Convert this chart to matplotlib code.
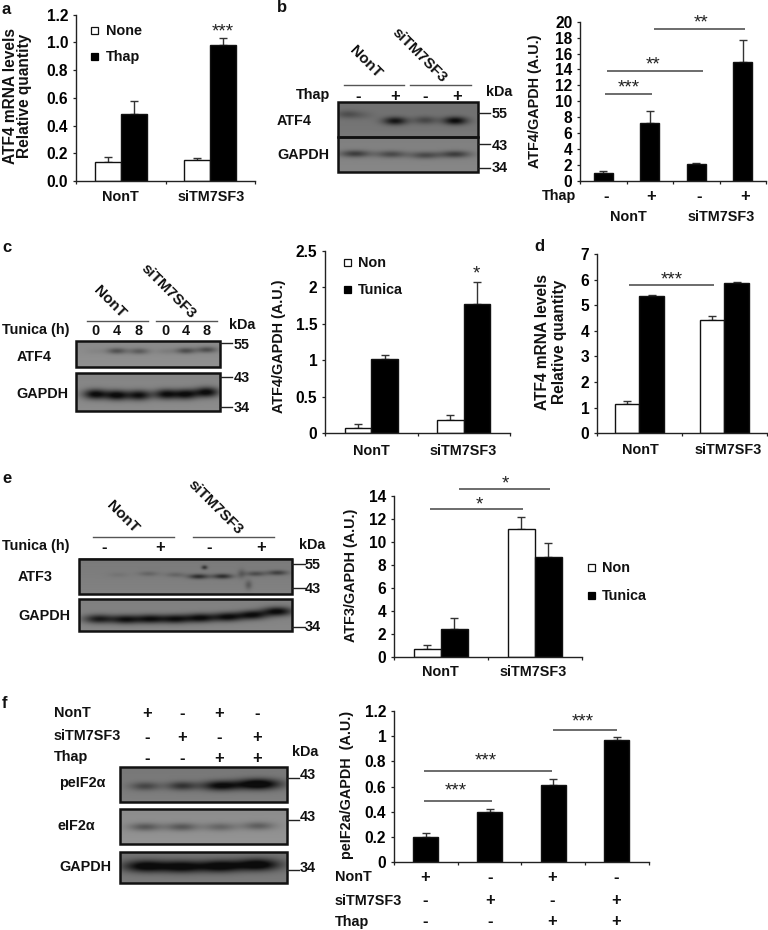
import numpy as np
import matplotlib
matplotlib.use("Agg")
import matplotlib.pyplot as plt
from matplotlib.patches import Rectangle

plt.rcParams['font.family'] = ['Liberation Sans', 'DejaVu Sans']
plt.rcParams['font.weight'] = 'bold'

W, H = 768, 930
FS = 10.4

# bar values and upper error lengths
a_none = [0.135, 0.15]
a_thap = [0.485, 0.98]
a_none_err = [0.04, 0.018]
a_thap_err = [0.09, 0.055]
a_ticks = ['0.0', '0.2', '0.4', '0.6', '0.8', '1.0', '1.2']

b_vals = [1.05, 7.3, 2.1, 14.9]
b_err = [0.2, 1.55, 0.2, 2.8]
b_ticks = [str(v) for v in range(0, 21, 2)]

c_none = [0.07, 0.18]
c_tunica = [1.02, 1.77]
c_none_err = [0.06, 0.07]
c_tunica_err = [0.05, 0.3]
c_ticks = ['0', '0.5', '1', '1.5', '2', '2.5']

d_none = [1.13, 4.42]
d_tunica = [5.37, 5.87]
d_none_err = [0.14, 0.15]
d_tunica_err = [0.01, 0.05]
d_ticks = ['0', '1', '2', '3', '4', '5', '6', '7']

e_none = [0.7, 11.15]
e_tunica = [2.4, 8.65]
e_none_err = [0.3, 1.05]
e_tunica_err = [1.0, 1.25]
e_ticks = [str(v) for v in range(0, 15, 2)]

f_vals = [0.2, 0.4, 0.61, 0.97]
f_err = [0.03, 0.02, 0.05, 0.025]
f_ticks = ['0', '0.2', '0.4', '0.6', '0.8', '1', '1.2']

groups = ['NonT', 'siTM7SF3']
f_nont = ['+', '-', '+', '-']
f_sitm = ['-', '+', '-', '+']
f_thap = ['-', '-', '+', '+']

# band darkness per lane on the blots
b_atf4 = [0.3, 0.12, 0.85, 0.4, 0.95]
b_gapdh = [0.55, 0.45, 0.45, 0.55]
c_atf4 = [0.05, 0.42, 0.35, 0.1, 0.45, 0.45]
c_gapdh = [0.95, 0.95, 0.9, 0.9, 0.9, 0.95]
e_atf3 = [0.08, 0.2, 0.2, 0.65, 0.65, 0.4, 0.5]
e_gapdh = [0.8, 0.85, 0.85, 0.85, 0.9, 0.9, 0.9, 0.95]
f_peif = [0.45, 0.6, 0.95, 1.2]
f_eif = [0.4, 0.4, 0.3, 0.35]
f_gapdh = [1.05, 1.0, 1.05, 1.1]

fig = plt.figure(figsize=(W / 100, H / 100), dpi=100, facecolor='white')
over = fig.add_axes([0, 0, 1, 1])
over.axis('off')


def label(x, y, s, ha='left', size=FS, rot=0):
    if rot == 90:
        x += 1.5
    over.text(x, y, s, ha=ha, va='center', fontsize=size, rotation=rot,
              rotation_mode='anchor' if rot == 0 else 'default', color='#111111')


def sign(x, y, s):
    over.text(x, y, s, ha='center', va='center', fontsize=FS + 1.5, color='#111111')


def stars(x, y, s):
    over.text(x, y + 4, s, ha='center', va='center', fontsize=13.5, fontweight='normal', color='#222222')


def panel(x0, x1, ytop, ybot, n, ymax, ticks):
    ax = fig.add_axes([x0 / W, 1 - ybot / H, (x1 - x0) / W, (ybot - ytop) / H])
    ax.patch.set_alpha(0)
    ax.set_xlim(0, n)
    ax.set_ylim(0, ymax)
    ax.set_yticks(np.linspace(0, ymax, len(ticks)))
    ax.set_yticklabels(ticks, fontsize=FS + 0.8)
    ax.set_xticks(range(n + 1))
    ax.set_xticklabels([])
    ax.tick_params(length=2.5, width=0.9, pad=3, color='#222222')
    for s in ['top', 'right']:
        ax.spines[s].set_visible(False)
    for s in ['left', 'bottom']:
        ax.spines[s].set_linewidth(1.0)
        ax.spines[s].set_color('#222222')
    return ax


def draw_bars(ax, pos, vals, errs, colour, width):
    ax.bar(pos, vals, width, color=colour, edgecolor='#111111', linewidth=1.0, zorder=2)
    ax.errorbar(pos, vals, yerr=[[0] * len(vals), errs], fmt='none', ecolor='#333333',
                elinewidth=1.0, capsize=2.8, capthick=1.0, zorder=1)


def paired(ax, first, second, first_err, second_err, width):
    pos = np.array([0.5, 1.5])
    draw_bars(ax, pos - width / 2, first, first_err, 'white', width)
    draw_bars(ax, pos + width / 2, second, second_err, 'black', width)


def sig(x0, x1, y, s, sx, sy):
    over.plot([x0, x1], [y, y], color='#444444', lw=1.1, solid_capstyle='butt')
    stars(sx, sy, s)


def legend(x, y0, y1, first, second):
    over.add_patch(Rectangle((x - 3.5, y0 - 3.5), 7, 7, fc='white', ec='#111111', lw=0.9))
    over.add_patch(Rectangle((x - 3.5, y1 - 3.5), 7, 7, fc='black', ec='black', lw=0.9))
    label(x + 11, y0 + 0.5, first)
    label(x + 11, y1 + 0.5, second)


def blot(x0, y0, x1, y1, bg, bands):
    xx, yy = np.meshgrid(np.arange(x0, x1, 0.5), np.arange(y0, y1, 0.5))
    img = np.full(xx.shape, bg, dtype=float)
    # vertical shading so the membrane is not flat
    img += 0.03 * (yy - y0) / (y1 - y0)
    for xc, yc, w, h, s in bands:
        img -= s * bg * np.exp(-((xx - xc) / (w / 2)) ** 2 - ((yy - yc) / (h / 2)) ** 2)
    img = np.clip(img, 0.05, 1)
    over.imshow(img, extent=(x0, x1, y1, y0), cmap='gray', vmin=0, vmax=1,
                aspect='auto', interpolation='bilinear', zorder=1)
    over.add_patch(Rectangle((x0, y0), x1 - x0, y1 - y0, fc='none', ec='#111111', lw=1.8, zorder=2))


def lanes(xs, ys, w, h, strengths):
    return [(x, y, w, h, s) for x, y, s in zip(xs, ys, strengths)]


def kda(x0, x1, y, text, tx, ty=None):
    over.plot([x0, x1], [y, y], color='#222222', lw=1.0)
    label(tx, y if ty is None else ty, text)


def header(xa0, xa1, xb0, xb1, y, c1, c2):
    over.plot([xa0, xa1], [y, y], color='#555555', lw=1.0)
    over.plot([xb0, xb1], [y, y], color='#555555', lw=1.0)
    label(c1[0], c1[1], groups[0], ha='center', rot=-45, size=FS + 0.6)
    label(c2[0], c2[1], groups[1], ha='center', rot=-45, size=FS + 0.6)


# panel letters
for x, y, s in [(2, 9, 'a'), (277, 8, 'b'), (2, 247, 'c'), (534, 246, 'd'), (2, 478, 'e'), (2, 703, 'f')]:
    label(x, y, s, size=12)

# a
ax = panel(76, 255, 14.7, 181, 2, 1.2, a_ticks)
paired(ax, a_none, a_thap, a_none_err, a_thap_err, 0.29)
label(120, 197, groups[0], ha='center')
label(210.7, 197, groups[1], ha='center')
label(9, 96, 'ATF4 mRNA levels', ha='center', rot=90, size=FS + 0.8)
label(23.3, 96, 'Relative quantity', ha='center', rot=90, size=FS + 0.8)
legend(94.7, 30.7, 57, 'None', 'Thap')
stars(222.7, 28, '***')

# b blot
blot(338, 102, 478, 137, 0.44, lanes([347, 362, 395, 425, 455], [114, 115, 120.7, 120, 120.5], 24, 8, b_atf4))
blot(338, 137, 478, 172, 0.5, lanes([355, 391, 425, 455], [153.5, 154, 155, 154], 30, 7, b_gapdh))
header(344, 404, 410, 471, 85, (365.7, 61.7), (419, 55))
label(330, 95, 'Thap', ha='right')
for x, s in zip([358, 395, 425, 456.7], ['-', '+', '-', '+']):
    sign(x, 96, s)
label(486, 91.7, 'kDa')
kda(478, 490, 113, '55', 492, 114)
kda(478, 490, 144.5, '43', 492, 145.7)
kda(478, 490, 168.5, '34', 492)
label(277, 121, 'ATF4')
label(277, 155, 'GAPDH')

# b chart
ax = panel(580, 766, 21.7, 181, 4, 20, b_ticks)
draw_bars(ax, np.arange(4) + 0.5, b_vals, b_err, 'black', 0.4)
label(533, 101, 'ATF4/GAPDH (A.U.)', ha='center', rot=90)
label(575.7, 195.7, 'Thap', ha='right')
for x, s in zip([605.7, 651.3, 699.3, 745], ['-', '+', '-', '+']):
    sign(x, 196, s)
label(628, 216.7, groups[0], ha='center')
label(721, 216.7, groups[1], ha='center')
sig(605, 652, 94, '***', 629, 84)
sig(607, 703, 70.7, '**', 653, 61)
sig(654, 745, 29, '**', 700.7, 19)

# c blot
c_x = [95, 116.7, 139, 165.7, 185.7, 206.7]
blot(76, 341, 220, 367, 0.54, lanes(c_x, [351, 350.7, 351, 351, 350.5, 349.5], 20, 6, c_atf4))
blot(76, 373.3, 220, 410.7, 0.52, lanes(c_x, [394, 395, 395, 394, 394, 392], 24, 10, c_gapdh))
header(87.3, 147.7, 156, 216.7, 320.7, (110, 301.7), (168, 291.7))
label(2, 330, 'Tunica (h)')
for x, s in zip(c_x, ['0', '4', '8', '0', '4', '8']):
    label(x, 331, s, ha='center')
label(229, 325, 'kDa')
kda(220, 232, 343.5, '55', 234, 345)
kda(220, 232, 377.5, '43', 234, 378.3)
kda(220, 232, 407, '34', 234, 408.3)
label(17, 357, 'ATF4')
label(16, 394, 'GAPDH')

# c chart
ax = panel(325, 510, 250.7, 433, 2, 2.5, c_ticks)
paired(ax, c_none, c_tunica, c_none_err, c_tunica_err, 0.287)
label(277, 346.7, 'ATF4/GAPDH (A.U.)', ha='center', rot=90)
label(371, 450.7, groups[0], ha='center')
label(462.7, 450.7, groups[1], ha='center')
legend(347.3, 262.3, 289.3, 'Non', 'Tunica')
stars(476, 270, '*')

# d chart
ax = panel(597, 766.7, 254, 433.3, 2, 7, d_ticks)
paired(ax, d_none, d_tunica, d_none_err, d_tunica_err, 0.29)
label(541, 342.3, 'ATF4 mRNA levels', ha='center', rot=90, size=FS + 0.8)
label(558.3, 342.3, 'Relative quantity', ha='center', rot=90, size=FS + 0.8)
label(640.7, 450, groups[0], ha='center')
label(728.3, 450, groups[1], ha='center')
sig(629.3, 714, 285, '***', 671.7, 275.7)

# e blot
e_x = [118, 148, 175, 198, 222, 255, 277]
atf3_bands = lanes(e_x, [575, 574, 575, 576.7, 576.5, 574, 573], 20, 5, e_atf3)
atf3_bands += [(204, 567.7, 6, 4, 0.6), (248, 585, 7, 9, 0.3), (241, 574, 8, 9, 0.25)]
blot(78.7, 558.7, 292.3, 594, 0.48, atf3_bands)
e_gx = [98, 125, 150, 175, 200, 227, 252, 277]
blot(78.7, 599.3, 292.3, 631.3, 0.5, lanes(e_gx, [619, 619.5, 619, 619, 618, 617, 615, 611.5], 30, 9, e_gapdh))
header(93.3, 174, 193, 274, 537.3, (123, 516.7), (215, 507))
label(2, 546, 'Tunica (h)')
for x, s in zip([104.3, 160, 209, 261], ['-', '+', '-', '+']):
    sign(x, 547, s)
label(299, 545, 'kDa')
kda(292, 305, 564, '55', 305, 565)
kda(292, 305, 588, '43', 305, 589)
kda(292, 305, 626.5, '34', 305, 627.3)
label(18, 577, 'ATF3')
label(18, 615.7, 'GAPDH')

# e chart
ax = panel(394, 581.7, 496, 656.7, 2, 14, e_ticks)
paired(ax, e_none, e_tunica, e_none_err, e_tunica_err, 0.288)
label(350, 575, 'ATF3/GAPDH (A.U.)', ha='center', rot=90)
label(440.7, 672.3, groups[0], ha='center')
label(532.7, 672.3, groups[1], ha='center')
legend(591, 567.7, 595, 'Non', 'Tunica')
sig(430, 522.7, 509.3, '*', 479, 500.7)
sig(459.3, 550, 489.3, '*', 505.3, 480)

# f blots
f_x = [145, 181.7, 220, 258]
peif_bands = [(x, y, w, 7 + 3 * s, s) for x, y, w, s in
              zip(f_x, [786, 785.7, 785.5, 784], [30, 30, 38, 44], f_peif)]
blot(120, 767.3, 286.7, 801.7, 0.47, peif_bands)
blot(120, 809.3, 286.7, 844, 0.55, lanes(f_x, [827, 827, 827, 826], 32, 8, f_eif))
blot(120, 852, 286.7, 882.7, 0.45, lanes(f_x, [866, 866.5, 866, 864.5], 44, 12, f_gapdh))
for y, name, row in [(712.7, 'NonT', f_nont), (736, 'siTM7SF3', f_sitm), (757.3, 'Thap', f_thap)]:
    label(54, y, name)
    for x, s in zip([146.7, 181.7, 219.3, 257.3], row):
        sign(x, y + 1, s)
label(292, 751.7, 'kDa')
kda(287, 299, 778, '43', 300, 775)
kda(287, 299, 820, '43', 300, 817)
kda(287, 299, 870, '34', 300, 867.7)
label(59, 783, 'peIF2α')
label(57, 825.7, 'eIF2α')
label(59, 867, 'GAPDH')

# f chart
ax = panel(394, 648.7, 711, 862, 4, 1.2, f_ticks)
draw_bars(ax, np.arange(4) + 0.5, f_vals, f_err, 'black', 0.39)
label(345, 785, 'peIF2a/GAPDH  (A.U.)', ha='center', rot=90)
for y, name, row in [(877, 'NonT', f_nont), (900.7, 'siTM7SF3', f_sitm), (921.7, 'Thap', f_thap)]:
    label(335, y, name)
    for x, s in zip([425, 489.7, 552.3, 616.3], row):
        sign(x, y, s)
sig(424, 491.7, 801, '***', 455.7, 786.7)
sig(424, 552, 770.7, '***', 485.7, 756.7)
sig(553, 617, 730, '***', 582.7, 717.5)

over.set_xlim(0, W)
over.set_ylim(H, 0)

fig.savefig('out.png', dpi=100)
